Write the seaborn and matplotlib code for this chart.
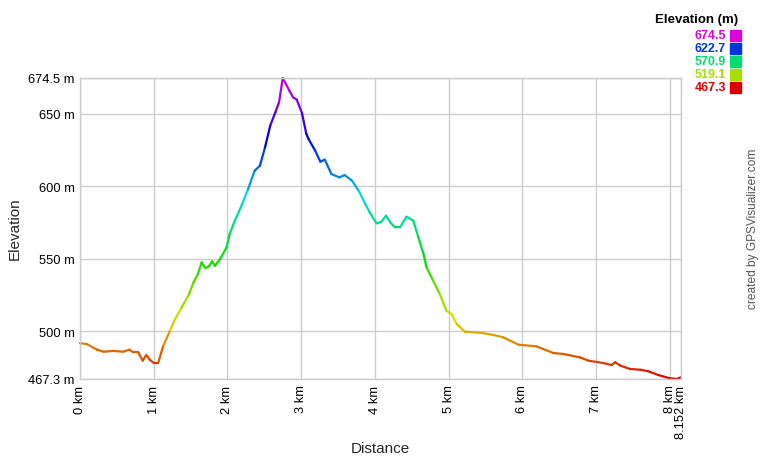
import matplotlib
matplotlib.use("Agg")
import matplotlib.pyplot as plt
import seaborn as sns
import pandas as pd
from matplotlib.colors import hsv_to_rgb
from matplotlib.patches import Rectangle

# elevation profile
dist_km = [0, 0.09, 0.23, 0.32, 0.45, 0.59, 0.67, 0.72, 0.79, 0.85, 0.90, 0.95, 1.00, 1.06,
           1.13, 1.22, 1.29, 1.38, 1.48, 1.54, 1.60, 1.65, 1.70, 1.75, 1.79, 1.83, 1.90, 1.99,
           2.03, 2.10, 2.19, 2.28, 2.37, 2.44, 2.51, 2.58, 2.65, 2.70, 2.75, 2.84, 2.89, 2.94,
           3.01, 3.07, 3.10, 3.19, 3.26, 3.32, 3.41, 3.52, 3.59, 3.69, 3.78, 3.87, 3.93, 4.02,
           4.09, 4.15, 4.21, 4.27, 4.34, 4.43, 4.52, 4.59, 4.66, 4.70, 4.79, 4.88, 4.97, 5.04,
           5.11, 5.22, 5.45, 5.61, 5.74, 5.95, 6.19, 6.42, 6.56, 6.78, 6.90, 7.10, 7.21, 7.26,
           7.33, 7.46, 7.60, 7.71, 7.84, 8.00, 8.09, 8.152]
elev_m = [491.9, 491.4, 487.5, 486.1, 486.6, 486.1, 487.5, 485.7, 485.7, 479.9, 483.8, 480.4,
          478.3, 478.3, 490.2, 500.5, 508.6, 516.6, 525.8, 533.9, 539.6, 547.6, 543.7, 544.9,
          548.3, 545.3, 549.9, 558.0, 567.1, 576.3, 586.6, 598.1, 610.7, 614.1, 626.8, 641.7,
          650.9, 657.8, 674.5, 665.8, 661.2, 659.6, 650.5, 636.0, 632.5, 624.5, 616.9, 618.3,
          608.4, 606.1, 607.7, 603.8, 596.9, 587.8, 582.0, 574.5, 575.6, 579.7, 575.1, 571.7,
          571.7, 579.0, 576.3, 564.8, 553.3, 544.2, 535.0, 525.8, 514.3, 512.0, 505.2, 499.9,
          499.0, 497.6, 496.0, 490.9, 489.8, 485.2, 484.5, 482.2, 479.9, 478.3, 476.9, 478.8,
          476.5, 474.2, 473.7, 472.6, 470.1, 467.8, 467.3, 468.5]

y_ticks = [467.3, 500, 550, 600, 650, 674.5]
y_labels = ["467.3 m", "500 m", "550 m", "600 m", "650 m", "674.5 m"]
x_ticks = [0, 1, 2, 3, 4, 5, 6, 7, 8, 8.152]
x_labels = ["0 km", "1 km", "2 km", "3 km", "4 km", "5 km", "6 km", "7 km", "8 km", "8.152 km"]
legend_vals = [674.5, 622.7, 570.9, 519.1, 467.3]

E_MIN, E_MAX = 467.3, 674.5


def elev_color(e):
    # red at the bottom, magenta at the top
    h = (e - E_MIN) / (E_MAX - E_MIN) * 300 / 360
    return tuple(hsv_to_rgb([h, 1.0, 0.87]))


# one two-point piece per segment so each gets its own colour
rows = []
palette = {}
for i in range(len(dist_km) - 1):
    sid = f"s{i:03d}"
    rows.append((sid, dist_km[i], elev_m[i]))
    rows.append((sid, dist_km[i + 1], elev_m[i + 1]))
    palette[sid] = elev_color((elev_m[i] + elev_m[i + 1]) / 2)
seg_df = pd.DataFrame(rows, columns=["seg", "dist", "elev"])

sns.set_theme(style="whitegrid")
plt.rcParams["font.family"] = ["Liberation Sans", "DejaVu Sans"]

fig = plt.figure(figsize=(7.6, 4.6), dpi=100)
ax = fig.add_axes([80 / 760, 1 - 380 / 460, 601 / 760, 301 / 460])
ax.set_facecolor("white")

sns.lineplot(data=seg_df, x="dist", y="elev", hue="seg", palette=palette, legend=False,
             estimator=None, sort=False, lw=1.6, clip_on=False, ax=ax)

ax.set_xlim(0, 8.152)
ax.set_ylim(E_MIN, E_MAX)
ax.set_xticks(x_ticks)
ax.set_xticklabels(x_labels, rotation=90, va="top", ha="center")
ax.set_yticks(y_ticks)
ax.set_yticklabels(y_labels)
ax.tick_params(length=0, labelsize=9.3, colors="black", pad=4)
ax.grid(True, color="#cccccc", lw=1)
for sp in ax.spines.values():
    sp.set_color("#cccccc")
    sp.set_linewidth(1)

ax.set_xlabel("")
ax.set_ylabel("")
fig.text(380 / 760, 1 - 449 / 460, "Distance", ha="center", va="center", fontsize=11)
fig.text(15 / 760, 1 - 229 / 460, "Elevation", ha="center", va="center", rotation=90, fontsize=11)

# legend
fig.text(738 / 760, 1 - 20 / 460, "Elevation (m)", ha="right", va="center",
         fontsize=9.5, fontweight="bold", color="black")
for k, v in enumerate(legend_vals):
    yc = 36 + k * 13
    c = elev_color(v)
    fig.text(726 / 760, 1 - yc / 460, f"{v:.1f}", ha="right", va="center",
             fontsize=9, fontweight="bold", color=c)
    fig.patches.append(Rectangle((730 / 760, 1 - (yc + 5.5) / 460), 10.5 / 760, 11 / 460,
                                 transform=fig.transFigure, color=c, figure=fig))

fig.text(753 / 760, 1 - 229 / 460, "created by GPSVisualizer.com", ha="center", va="center",
         rotation=90, fontsize=8.6, color="#555555")

fig.savefig("out.png", dpi=100)
